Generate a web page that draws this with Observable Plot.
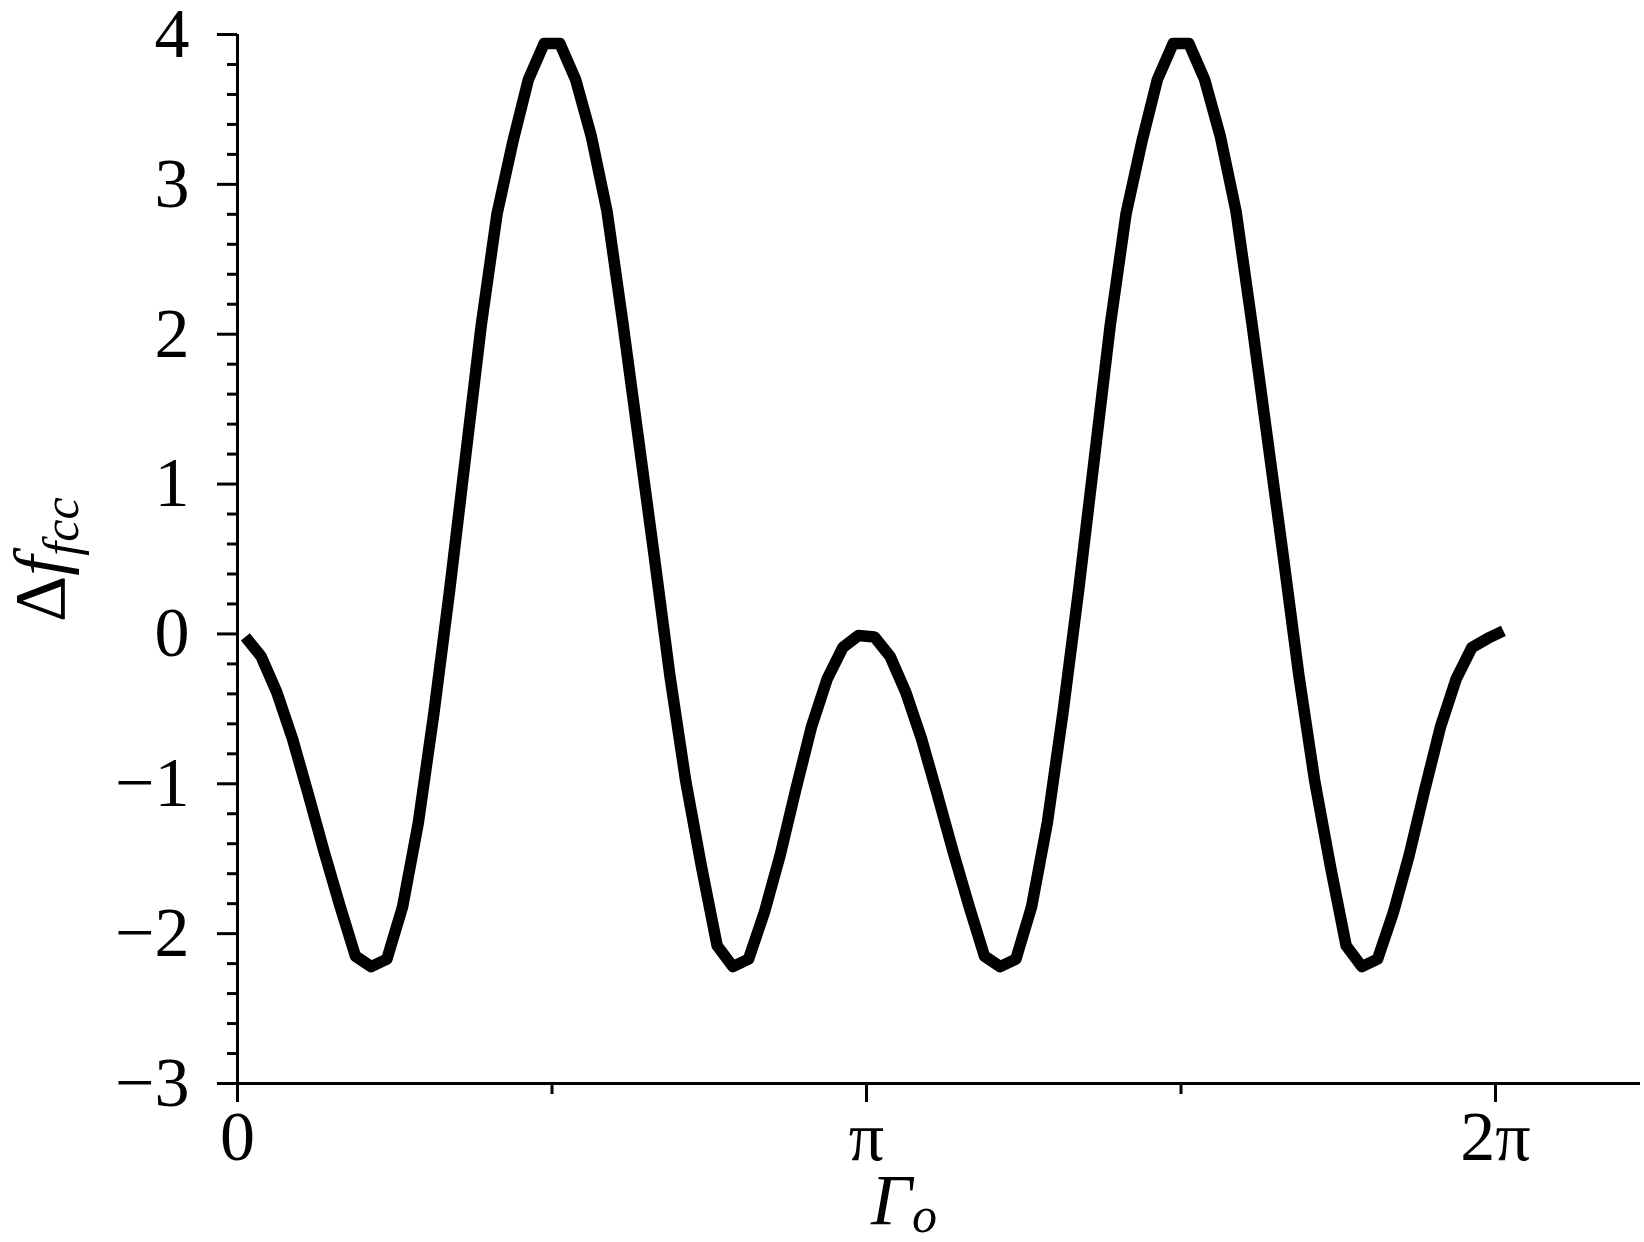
<!DOCTYPE html>
<html><head><meta charset="utf-8">
<script src="https://cdn.jsdelivr.net/npm/d3@7"></script>
<script src="https://cdn.jsdelivr.net/npm/@observablehq/plot@0.6"></script>
<style>body{margin:0;background:#fff;}</style>
</head><body><div id="chart"></div>
<script>
// Γo in units of π
const gammaPi = [
  0.0125,0.0375,0.0625,0.0875,0.1125,0.1375,0.1625,0.1875,0.2125,0.2375,
  0.2625,0.2875,0.3125,0.3375,0.3625,0.3875,0.4125,0.4375,0.4625,0.4875,
  0.5125,0.5375,0.5625,0.5875,0.6125,0.6375,0.6625,0.6875,0.7125,0.7375,
  0.7625,0.7875,0.8125,0.8375,0.8625,0.8875,0.9125,0.9375,0.9625,0.9875,
  1.0125,1.0375,1.0625,1.0875,1.1125,1.1375,1.1625,1.1875,1.2125,1.2375,
  1.2625,1.2875,1.3125,1.3375,1.3625,1.3875,1.4125,1.4375,1.4625,1.4875,
  1.5125,1.5375,1.5625,1.5875,1.6125,1.6375,1.6625,1.6875,1.7125,1.7375,
  1.7625,1.7875,1.8125,1.8375,1.8625,1.8875,1.9125,1.9375,1.9625,1.9875,
  2.0125
];
// Δf_fcc
const deltaF = [
  -0.02,-0.15,-0.39,-0.70,-1.07,-1.45,-1.81,-2.15,-2.22,-2.17,
  -1.82,-1.26,-0.52,0.30,1.18,2.06,2.80,3.28,3.70,3.94,
  3.94,3.70,3.32,2.82,2.08,1.30,0.52,-0.28,-0.98,-1.55,
  -2.08,-2.22,-2.17,-1.86,-1.48,-1.04,-0.62,-0.30,-0.09,-0.01,
  -0.02,-0.15,-0.39,-0.70,-1.07,-1.45,-1.81,-2.15,-2.22,-2.17,
  -1.82,-1.26,-0.52,0.30,1.18,2.06,2.80,3.28,3.70,3.94,
  3.94,3.70,3.32,2.82,2.08,1.30,0.52,-0.28,-0.98,-1.55,
  -2.08,-2.22,-2.17,-1.86,-1.48,-1.04,-0.62,-0.30,-0.09,-0.03,
  0.02
];
const yMajorTicks = [-3,-2,-1,0,1,2,3,4];
const yTickLabels = ["−3","−2","−1","0","1","2","3","4"];
const yMinorTicks = [
  -2.8,-2.6,-2.4,-2.2,-1.8,-1.6,-1.4,-1.2,-0.8,-0.6,-0.4,-0.2,
  0.2,0.4,0.6,0.8,1.2,1.4,1.6,1.8,2.2,2.4,2.6,2.8,3.2,3.4,3.6,3.8
];
const xMajorTicks = [0,1,2];
const xTickLabels = ["0","π","2π"];
const xMinorTicks = [0.5,1.5];
const xMax = 2.2305;

const data = gammaPi.map((g, i) => ({g, f: deltaF[i]}));
const serif = "'Liberation Serif', 'Times New Roman', serif";

const plot = Plot.plot({
  width: 1644, height: 1242,
  marginTop: 34, marginBottom: 159, marginLeft: 237, marginRight: 4,
  x: {domain: [0, xMax]},
  y: {domain: [-3, 4]},
  style: {fontFamily: serif, fontSize: "70px", background: "#fff", color: "#000", overflow: "visible"},
  marks: [
    Plot.ruleX([0], {y1: -3, y2: 4, stroke: "#000", strokeWidth: 3}),
    Plot.ruleY([-3], {x1: 0, x2: xMax, stroke: "#000", strokeWidth: 3}),
    Plot.axisY(yMinorTicks, {tickSize: 10, tickFormat: () => "", strokeWidth: 3, label: null}),
    Plot.axisY(yMajorTicks, {tickSize: 20, tickPadding: 28, strokeWidth: 3, label: null, fontSize: 70,
      tickFormat: d => yTickLabels[yMajorTicks.indexOf(d)]}),
    Plot.axisX(xMinorTicks, {tickSize: 11, tickFormat: () => "", strokeWidth: 3, label: null}),
    Plot.axisX(xMajorTicks, {tickSize: 19, tickPadding: 8, strokeWidth: 3, label: null, fontSize: 70,
      tickFormat: d => xTickLabels[xMajorTicks.indexOf(d)]}),
    Plot.line(data, {x: "g", y: "f", stroke: "#000", strokeWidth: 11.5, strokeLinejoin: "round", strokeLinecap: "butt"})
  ]
});

const svg = d3.select(plot);
const xl = svg.append("text")
  .attr("x", 871).attr("y", 1224).attr("text-anchor", "start")
  .attr("font-family", serif).attr("font-size", 72).attr("font-style", "italic").attr("fill", "#000");
xl.append("tspan").text("Γ");
xl.append("tspan").attr("font-size", 50).attr("dy", 8).text("o");

const yl = svg.append("text")
  .attr("transform", "translate(64,622) rotate(-90)").attr("text-anchor", "start")
  .attr("font-family", serif).attr("font-size", 72).attr("fill", "#000");
yl.append("tspan").text("Δ");
yl.append("tspan").attr("font-style", "italic").text("f");
yl.append("tspan").attr("font-style", "italic").attr("font-size", 50).attr("dy", 14).text("fcc");

document.getElementById("chart").appendChild(plot);
</script>
</body></html>
